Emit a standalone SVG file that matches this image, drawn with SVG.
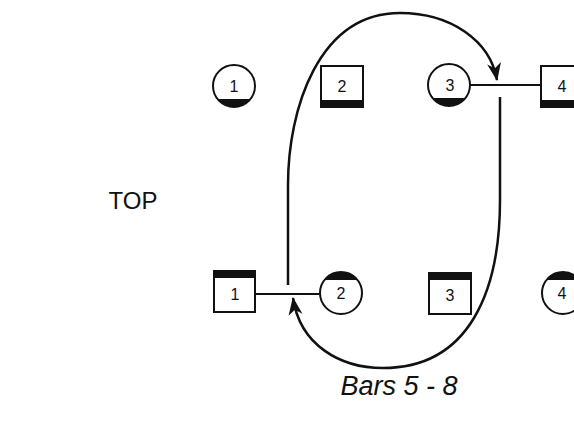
<svg xmlns="http://www.w3.org/2000/svg" width="574" height="425" viewBox="0 0 574 425">
<defs>
<style>
.bg{fill:#fff}
.shape{fill:#fff;stroke:#111;stroke-width:2}
.fill{fill:#111;stroke:none}
.num{font-family:"Liberation Sans",Arial,sans-serif;font-size:16px;fill:#111;text-anchor:middle}
.lbl{font-family:"Liberation Sans",Arial,sans-serif;fill:#111;text-anchor:middle}
.link{fill:none;stroke:#111;stroke-width:2}
.curve{fill:none;stroke:#111;stroke-width:2.5}
</style>
<marker id="arr" markerUnits="userSpaceOnUse" markerWidth="24" markerHeight="24" refX="0" refY="0" viewBox="-20 -10 24 20" orient="auto">
<path d="M1,0 L-17,-7 L-12,0 L-17,7 Z" fill="#111"/>
</marker>
</defs>
<rect class="bg" x="0" y="0" width="574" height="425"/>
<g id="top-c1">
<circle class="shape" cx="234" cy="86" r="21"/>
<path class="fill" d="M217.5,99 A21,21 0 0 0 250.5,99 Z"/>
<text class="num" x="234" y="92">1</text>
</g>
<g id="top-s2">
<rect class="shape" x="321" y="66" width="42" height="41"/>
<rect class="fill" x="320" y="100" width="44" height="8"/>
<text class="num" x="342" y="92">2</text>
</g>
<g id="top-c3">
<circle class="shape" cx="449" cy="85" r="21"/>
<path class="fill" d="M432.5,98 A21,21 0 0 0 465.5,98 Z"/>
<text class="num" x="450" y="91">3</text>
</g>
<g id="top-s4">
<rect class="shape" x="541" y="66" width="43" height="41"/>
<rect class="fill" x="540" y="100" width="45" height="8"/>
<text class="num" x="562" y="92">4</text>
</g>
<g id="bot-s1">
<rect class="shape" x="214" y="271" width="41" height="41"/>
<rect class="fill" x="213" y="270" width="43" height="8"/>
<text class="num" x="235" y="300">1</text>
</g>
<g id="bot-c2">
<circle class="shape" cx="341" cy="293" r="21"/>
<path class="fill" d="M324.5,280 A21,21 0 0 1 357.5,280 Z"/>
<text class="num" x="341" y="299">2</text>
</g>
<g id="bot-s3">
<rect class="shape" x="429" y="273" width="42" height="41"/>
<rect class="fill" x="428" y="272" width="44" height="8"/>
<text class="num" x="450" y="301">3</text>
</g>
<g id="bot-c4">
<circle class="shape" cx="563" cy="293" r="21"/>
<path class="fill" d="M546.5,280 A21,21 0 0 1 579.5,280 Z"/>
<text class="num" x="562" y="299">4</text>
</g>
<g id="connectors">
<line class="link" x1="255" y1="294" x2="320" y2="294"/>
<line class="link" x1="470" y1="85" x2="541" y2="85"/>
<path class="curve" d="M288,285 L288,185 C288,110 318,13 400,13 C450,13 490,40 497,80" marker-end="url(#arr)"/>
<path class="curve" d="M500,97 L500,200 C500,290 470,368 383,368 C340,368 300,345 293,298" marker-end="url(#arr)"/>
</g>
<text class="lbl" x="133" y="209" font-size="24">TOP</text>
<text class="lbl" x="399" y="395" font-size="27" font-style="italic">Bars 5 - 8</text>
</svg>
